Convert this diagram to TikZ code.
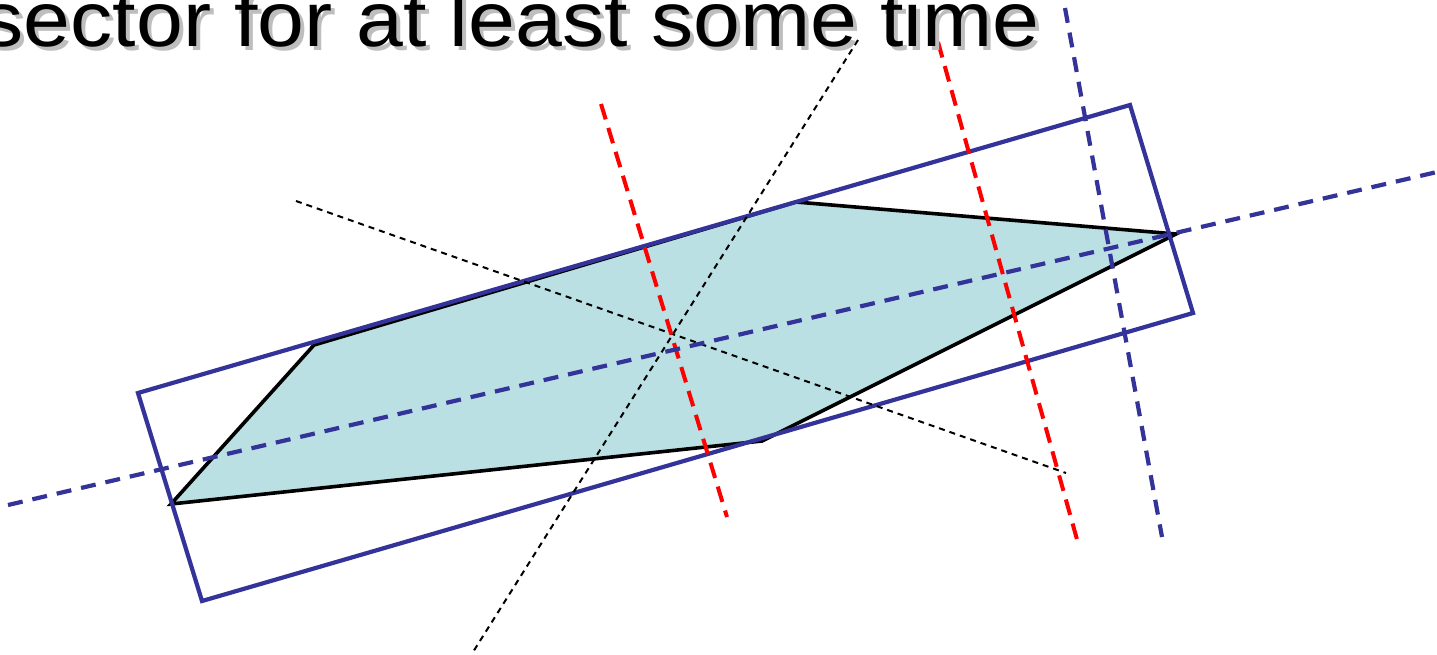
\documentclass[tikz,border=0pt]{standalone}
\usepackage{fontspec}
\setmainfont{Liberation Sans}
\definecolor{axisblue}{RGB}{51,51,153}
\definecolor{polyfill}{RGB}{186,224,227}
\definecolor{shadowgray}{RGB}{190,190,190}
\tikzset{
  boxline/.style={draw=axisblue, line width=4.2pt, line join=miter},
  axisdash/.style={draw=axisblue, line width=4.2pt, dash pattern=on 15pt off 10pt},
  reddash/.style={draw=red, line width=4pt, dash pattern=on 16pt off 9pt},
  thindash/.style={draw=black, line width=2pt, dash pattern=on 6pt off 5pt},
  polyline/.style={draw=black, line width=3.6pt, fill=polyfill, line join=miter},
  titletext/.style={font=\fontsize{78}{82}\selectfont, inner sep=0pt, anchor=base east}
}
\newcommand{\titlestr}{\scalebox{1.08}[1]{sector for at least some time}}
\begin{document}
\begin{tikzpicture}[x=1pt,y=-1pt]
\useasboundingbox (0,0) rectangle (1437,654);
% polygon
\coordinate (p1) at (171,504);
\coordinate (p2) at (314,345);
\coordinate (p3) at (796,202);
\coordinate (p4) at (1176,234);
\coordinate (p5) at (762,441);
\draw[polyline] (p1) -- (p2) -- (p3) -- (p4) -- (p5) -- cycle;
% rectangle
\coordinate (r1) at (138,393);
\coordinate (r2) at (1130,105);
\coordinate (r3) at (1193,313);
\coordinate (r4) at (202,601);
\draw[boxline] (r1) -- (r2) -- (r3) -- (r4) -- cycle;
% thin dashed bisectors
\coordinate (t1) at (296,201);
\coordinate (t2) at (1066,473);
\coordinate (t3) at (858,40);
\coordinate (t4) at (473,652);
\draw[thindash] (t1) -- (t2);
\draw[thindash] (t3) -- (t4);
% red dashed
\coordinate (ra) at (601,104);
\coordinate (rb) at (727,517);
\coordinate (rc) at (938,42);
\coordinate (rd) at (1078,543);
\draw[reddash] (ra) -- (rb);
\draw[reddash] (rc) -- (rd);
% blue dashed
\coordinate (ba) at (8,505);
\coordinate (bb) at (1437,172);
\coordinate (bc) at (1065,8);
\coordinate (bd) at (1162,537);
\draw[axisdash] (ba) -- (bb);
\draw[axisdash] (bc) -- (bd);
% title
\node[titletext, text=shadowgray] (shadow) at (1044,50) {\titlestr};
\node[titletext, text=black] (title) at (1040,46) {\titlestr};
\end{tikzpicture}
\end{document}
